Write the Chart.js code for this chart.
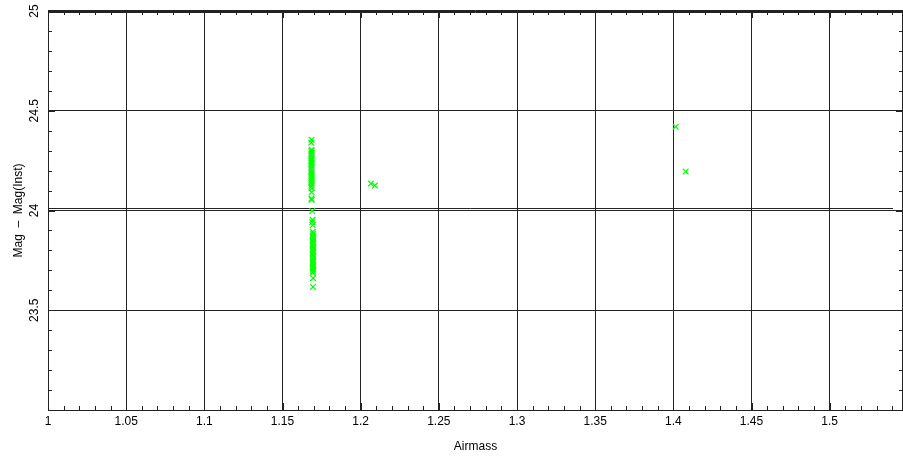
<!DOCTYPE html>
<html>
<head>
<meta charset="utf-8">
<script src="https://cdn.jsdelivr.net/npm/chart.js@4"></script>
<style>
  html, body { margin: 0; padding: 0; background: #fff; }
  canvas { display: block; }
</style>
</head>
<body>
<canvas id="my_graph" width="903" height="459"></canvas>
<script>
let airmass = [
    1.1686, 1.1684, 1.1686, 1.1685, 1.1687, 1.1684, 1.1686, 1.1685, 1.1687, 1.1684,
    1.1686, 1.1685, 1.1687, 1.1684, 1.1686, 1.1685, 1.1687, 1.1684, 1.1686, 1.1685,
    1.1687, 1.1684, 1.1686, 1.1685, 1.1687, 1.1686, 1.1685, 1.1687,
    1.1690, 1.1692, 1.1690, 1.1693, 1.1694, 1.1696, 1.1693, 1.1695, 1.1697, 1.1694,
    1.1696, 1.1693, 1.1695, 1.1697, 1.1694, 1.1696, 1.1693, 1.1695, 1.1697, 1.1694,
    1.1696, 1.1693, 1.1695, 1.1697, 1.1694, 1.1696, 1.1695, 1.1694, 1.1696, 1.1695,
    1.2065, 1.2091, 1.4015, 1.4079
];
let mag_diff = [
    24.355, 24.340, 24.305, 24.298, 24.290, 24.281, 24.272, 24.263, 24.255, 24.246,
    24.237, 24.228, 24.219, 24.210, 24.201, 24.192, 24.183, 24.174, 24.165, 24.156,
    24.147, 24.138, 24.129, 24.120, 24.112, 24.091, 24.060, 24.053,
    23.997, 23.953, 23.941, 23.926, 23.893, 23.884, 23.875, 23.866, 23.857, 23.848,
    23.839, 23.830, 23.821, 23.812, 23.803, 23.794, 23.785, 23.776, 23.767, 23.758,
    23.749, 23.740, 23.731, 23.722, 23.713, 23.704, 23.695, 23.687, 23.661, 23.617,
    24.135, 24.125, 24.420, 24.195
];

// fitted zero point line
let fit_x = [1, 1.5405];
let fit_y = [24.01, 24.01];

// axes
let x_ticks = [1, 1.05, 1.1, 1.15, 1.2, 1.25, 1.3, 1.35, 1.4, 1.45, 1.5];
let y_ticks = [23.5, 24, 24.5, 25];
let y_labels = ['23.5', '24', '24.5', '25'];
let x_min = 1, x_max = 1.5469;
let y_min = 23, y_max = 25;

const font_family = '"Liberation Sans", Arial, sans-serif';
const line_color = '#222';

let points = airmass.map((x, i) => ({ 'x': x, 'y': mag_diff[i] }));
let fit_line = fit_x.map((x, i) => ({ 'x': x, 'y': fit_y[i] }));

// minor ticks, top/right frame and rotated y labels
const frame_plugin = {
    id: 'frame_plugin',
    afterDraw(chart) {
        const ctx = chart.ctx;
        const area = chart.chartArea;
        const xs = chart.scales.x;
        const ys = chart.scales.y;
        ctx.save();
        ctx.strokeStyle = line_color;
        ctx.lineWidth = 1;
        ctx.beginPath();
        // top frame (doubled) and right frame
        ctx.moveTo(area.left, area.top - 0.5);
        ctx.lineTo(area.right, area.top - 0.5);
        ctx.moveTo(area.left, area.top + 1.5);
        ctx.lineTo(area.right, area.top + 1.5);
        ctx.moveTo(area.right - 0.5, area.top);
        ctx.lineTo(area.right - 0.5, area.bottom);
        // x minor ticks every 0.01
        for (let k = 0; k <= 54; k++) {
            let v = x_min + k * 0.01;
            if (v > x_max) break;
            let px = Math.round(xs.getPixelForValue(v)) + 0.5;
            let len = (k % 5 === 0) ? 7 : 4;
            ctx.moveTo(px, area.bottom);
            ctx.lineTo(px, area.bottom - len);
            ctx.moveTo(px, area.top);
            ctx.lineTo(px, area.top + len);
        }
        // y minor ticks every 0.1
        for (let k = 0; k <= 20; k++) {
            let v = y_min + k * 0.1;
            let py = Math.round(ys.getPixelForValue(v)) + 0.5;
            let len = (k % 5 === 0) ? 7 : 4;
            ctx.moveTo(area.left, py);
            ctx.lineTo(area.left + len, py);
            ctx.moveTo(area.right, py);
            ctx.lineTo(area.right - len, py);
        }
        ctx.stroke();

        // y tick labels, rotated
        ctx.fillStyle = '#000';
        ctx.font = '12px ' + font_family;
        ctx.textAlign = 'center';
        ctx.textBaseline = 'middle';
        y_ticks.forEach((v, i) => {
            let py = ys.getPixelForValue(v);
            ctx.save();
            ctx.translate(35, py);
            ctx.rotate(-Math.PI / 2);
            ctx.fillText(y_labels[i], 0, 0);
            ctx.restore();
        });
        ctx.restore();
    }
};

var ctx = document.getElementById('my_graph').getContext('2d');
var my_graph = new Chart(ctx, {
    type: 'scatter',
    data: {
        datasets: [{
                type: 'line',
                label: 'fit',
                data: fit_line,
                borderColor: line_color,
                borderWidth: 1,
                pointRadius: 0,
                fill: false,
                order: 2
            }, {
                type: 'scatter',
                label: 'stars',
                data: points,
                pointStyle: 'crossRot',
                pointRadius: 4,
                borderColor: '#00ff00',
                backgroundColor: '#00ff00',
                borderWidth: 1.2,
                order: 1
            }
        ]
    },
    options: {
        responsive: false,
        animation: false,
        devicePixelRatio: 1,
        plugins: {
            legend: { display: false },
            tooltip: { enabled: false }
        },
        layout: {
            autoPadding: false,
            padding: { top: 11, right: 0, left: 0, bottom: 0 }
        },
        scales: {
            x: {
                type: 'linear',
                min: x_min,
                max: x_max,
                afterBuildTicks: (scale) => {
                    scale.ticks = x_ticks.map(v => ({ value: v }));
                },
                afterFit: (scale) => {
                    scale.height = 49;
                    scale.paddingLeft = 0;
                    scale.paddingRight = 0;
                },
                ticks: {
                    color: '#000',
                    padding: 4,
                    maxRotation: 0,
                    autoSkip: false,
                    font: { family: font_family, size: 12 },
                    callback: (v) => String(Math.round(v * 100) / 100)
                },
                grid: {
                    color: line_color,
                    lineWidth: 1,
                    drawTicks: false
                },
                border: { color: line_color, width: 1 },
                title: {
                    display: true,
                    text: 'Airmass',
                    color: '#000',
                    font: { family: font_family, size: 12 },
                    padding: { top: 0, bottom: 5 }
                }
            },
            y: {
                type: 'linear',
                min: y_min,
                max: y_max,
                afterBuildTicks: (scale) => {
                    scale.ticks = y_ticks.map(v => ({ value: v }));
                },
                afterFit: (scale) => { scale.width = 48; },
                ticks: { display: false },
                grid: {
                    color: line_color,
                    lineWidth: 1,
                    drawTicks: false
                },
                border: { color: line_color, width: 1 },
                title: {
                    display: true,
                    text: 'Mag  \u2013  Mag(Inst)',
                    color: '#000',
                    font: { family: font_family, size: 12 },
                    padding: { top: 11, bottom: 0 }
                }
            }
        }
    },
    plugins: [frame_plugin]
});
</script>
</body>
</html>
